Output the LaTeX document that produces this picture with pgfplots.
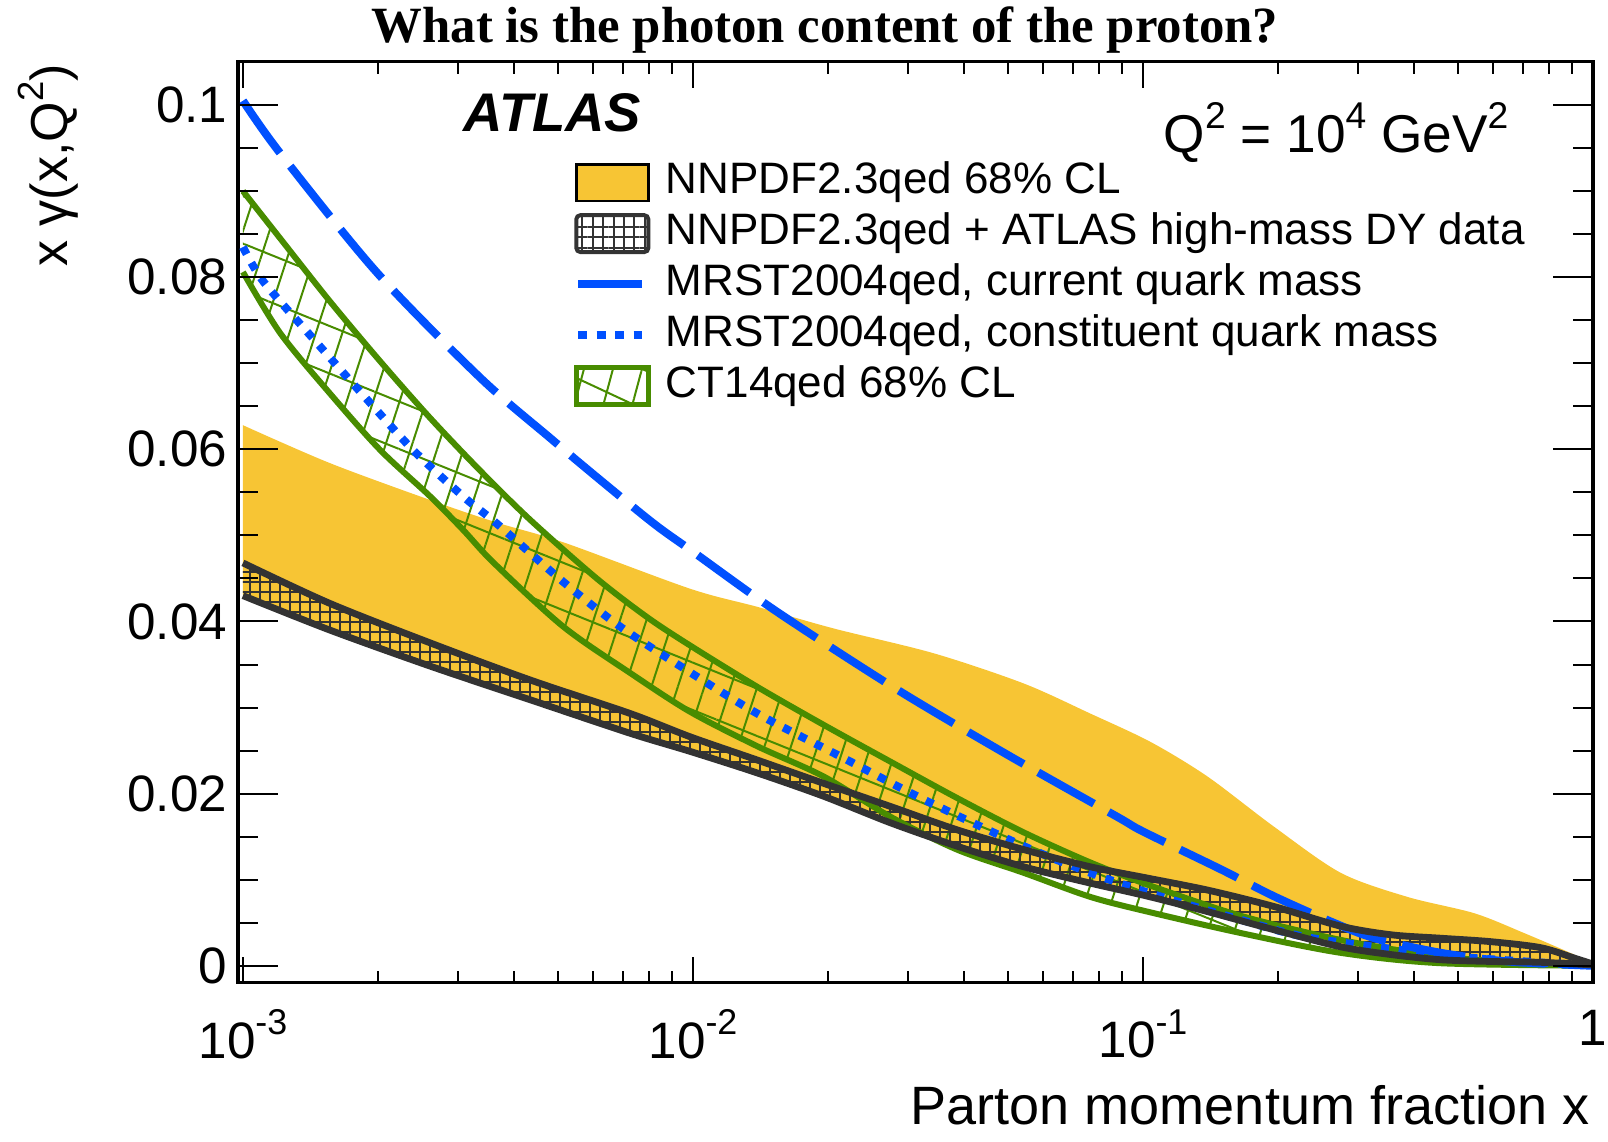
\documentclass[border=0pt]{standalone}
\usepackage{fontspec}
\setmainfont{Liberation Sans}
\newfontfamily\titlefont{Liberation Serif}
\usepackage{pgfplots}
\usepackage{pgfplotstable}
\pgfplotsset{compat=1.18}
\usepgfplotslibrary{fillbetween}
\usetikzlibrary{patterns,patterns.meta}
\definecolor{nnyellow}{RGB}{247,197,52}
\definecolor{mrstblue}{RGB}{0,80,255}
\definecolor{ctgreen}{RGB}{72,140,0}
\definecolor{dkgray}{RGB}{51,51,51}
\newcommand\sps[1]{\raisebox{0.46em}{\scalebox{0.7}{#1}}}
\pgfplotsset{
  legbox/.style={legend image code/.code={\draw[##1] (0pt,-4.6pt) rectangle (18pt,4.6pt);}},
  legline/.style={legend image code/.code={\draw[##1] (0.5pt,0pt) -- (16.5pt,0pt);}},
}
% NNPDF2.3qed 68% CL, upper edge
\pgfplotstableread{
x y
0.001 0.0628
0.00156 0.0584
0.00261 0.0541
0.00366 0.0515
0.00515 0.0492
0.00986 0.0438
0.0139 0.0417
0.0205 0.0392
0.0343 0.0363
0.0543 0.0328
0.0764 0.0293
0.104 0.0260
0.139 0.0220
0.195 0.0162
0.275 0.0108
0.387 0.0080
0.545 0.0061
0.703 0.0038
0.908 0.0013
1 0.0002
}\yU
% NNPDF2.3qed + ATLAS, upper edge
\pgfplotstableread{
x y
0.001 0.0468
0.00156 0.0421
0.00261 0.0375
0.00435 0.0332
0.00726 0.0293
0.00986 0.0266
0.0139 0.0239
0.0195 0.0212
0.0275 0.0185
0.0386 0.0158
0.0543 0.0135
0.0764 0.0115
0.102 0.0102
0.139 0.0088
0.195 0.0069
0.275 0.0046
0.356 0.0036
0.459 0.0032
0.593 0.0028
0.766 0.0021
0.908 0.0009
1 0.0002
}\nU
% NNPDF2.3qed + ATLAS, lower edge
\pgfplotstableread{
x y
0.001 0.0430
0.00156 0.0390
0.00261 0.0348
0.00435 0.0309
0.00726 0.0270
0.00986 0.0249
0.0139 0.0224
0.0195 0.0197
0.0275 0.0166
0.0386 0.0139
0.0543 0.0115
0.0764 0.0096
0.102 0.0081
0.139 0.0063
0.195 0.0042
0.275 0.0022
0.356 0.0013
0.459 0.0007
0.593 0.0005
0.766 0.0004
1 0.0001
}\nL
% CT14qed upper edge
\pgfplotstableread{
x y
0.001 0.0900
0.00121 0.0845
0.00156 0.0772
0.00202 0.0702
0.00261 0.0636
0.00337 0.0575
0.00435 0.0518
0.00611 0.0450
0.00791 0.0405
0.00986 0.0372
0.0139 0.0324
0.0195 0.0280
0.0275 0.0237
0.0386 0.0195
0.0543 0.0155
0.0764 0.0120
0.104 0.0093
0.165 0.0058
0.275 0.0030
0.457 0.0011
0.708 0.0003
1 0.0
}\cU
% CT14qed lower edge
\pgfplotstableread{
x y
0.001 0.0806
0.00121 0.0735
0.00156 0.0665
0.00202 0.0599
0.00261 0.0545
0.00309 0.0506
0.00361 0.0468
0.00515 0.0394
0.00726 0.0340
0.00986 0.0295
0.0139 0.0255
0.0195 0.0220
0.0275 0.0173
0.0386 0.0135
0.0543 0.0108
0.0764 0.0080
0.104 0.0062
0.165 0.0038
0.275 0.0015
0.457 0.0003
1 0.0
}\cL
% MRST2004qed current quark mass
\pgfplotstableread{
x y
0.001 0.1005
0.00121 0.0944
0.00198 0.0806
0.00337 0.0683
0.00482 0.0613
0.00607 0.0569
0.00817 0.0514
0.0100 0.0481
0.0154 0.0411
0.0284 0.0321
0.0508 0.0243
0.0877 0.0173
0.1 0.0156
0.149 0.0112
0.195 0.0081
0.257 0.0053
0.327 0.0032
0.459 0.0015
0.646 0.0005
1 0.0
}\mC
% MRST2004qed constituent quark mass
\pgfplotstableread{
x y
0.001 0.0835
0.00111 0.0795
0.00143 0.0729
0.00185 0.0663
0.00239 0.0599
0.00309 0.0545
0.00366 0.0514
0.00515 0.0446
0.00689 0.0394
0.00938 0.0348
0.0139 0.0293
0.0213 0.0243
0.0326 0.0193
0.0543 0.0139
0.0764 0.0108
0.104 0.0084
0.1585 0.0056
0.232 0.0033
0.407 0.0016
0.543 0.0009
1 0.0
}\mK
\begin{document}
\begin{tikzpicture}
\begin{axis}[
  at={(0pt,0pt)}, anchor=south west,
  scale only axis, width=338.75pt, height=230.25pt,
  xmode=log, xmin=0.000975, xmax=1, ymin=-0.002, ymax=0.105,
  xtick={0.001,0.01,0.1,1},
  xticklabels={10\sps{-3},10\sps{-2},10\sps{-1},1},
  ytick=\empty,
  major tick length=6.5pt, minor tick length=3pt,
  tick style={line width=0.5pt, black},
  axis line style={line width=0.75pt},
  xticklabel style={font=\fontsize{12.8}{14}\selectfont, inner sep=0pt, anchor=north, yshift=-6.5pt},
  every axis plot/.append style={smooth, tension=0.5},
  legend cell align=left,
  legend style={at={(rel axis cs:0.2472,0.8968)}, anchor=north west, draw=none, fill=none,
    inner sep=0pt, row sep=0.2pt, column sep=2.75pt, font=\fontsize{11}{13}\selectfont,
    nodes={inner sep=1pt, text height=8pt, text depth=2.5pt}},
]
\addlegendimage{legbox, fill=nnyellow, draw=black, line width=0.6pt}
\addlegendentry{NNPDF2.3qed 68\% CL}
\addlegendimage{legbox, draw=dkgray, line width=1pt, rounded corners=1pt, pattern={Hatch[angle=0,distance=2.6pt,line width=0.5pt]}, pattern color=dkgray}
\addlegendentry{NNPDF2.3qed + ATLAS high-mass DY data}
\addlegendimage{legline, mrstblue, line width=2pt}
\addlegendentry{MRST2004qed, current quark mass}
\addlegendimage{legline, mrstblue, line width=2pt, dash pattern=on 2.2pt off 2.4pt}
\addlegendentry{MRST2004qed, constituent quark mass}
\addlegendimage{legend image code/.code={
   \fill[pattern={Lines[angle=75,distance=7pt,line width=0.5pt]}, pattern color=ctgreen] (0pt,-4.6pt) rectangle (18pt,4.6pt);
   \fill[pattern={Lines[angle=-25,distance=9pt,line width=0.5pt]}, pattern color=ctgreen] (0pt,-4.6pt) rectangle (18pt,4.6pt);
   \draw[ctgreen, line width=1.3pt] (0pt,-4.6pt) rectangle (18pt,4.6pt);}}
\addlegendentry{CT14qed 68\% CL}

\addplot[draw=none, forget plot, name path=yU] table {\yU};
\addplot[draw=none, forget plot, name path=nL] table {\nL};
\addplot[draw=none, forget plot, name path=nU] table {\nU};
\addplot[draw=none, forget plot, name path=cU] table {\cU};
\addplot[draw=none, forget plot, name path=cL] table {\cL};
% NNPDF2.3qed band
\addplot[fill=nnyellow, draw=none, forget plot] fill between[of=yU and nL];
% CT14qed band
\addplot[draw=none, forget plot, pattern={Lines[angle=72,distance=6.3pt,line width=0.5pt]}, pattern color=ctgreen] fill between[of=cU and cL];
\addplot[draw=none, forget plot, pattern={Lines[angle=-22,distance=11pt,line width=0.5pt]}, pattern color=ctgreen] fill between[of=cU and cL];
\addplot[ctgreen, line width=1.5pt, forget plot] table {\cU};
\addplot[ctgreen, line width=1.5pt, forget plot] table {\cL};
% MRST curves
\addplot[mrstblue, line width=2pt, line cap=butt, dash pattern=on 2pt off 2.45pt, forget plot] table {\mK};
\addplot[mrstblue, line width=2pt, line cap=butt, dash pattern=on 16pt off 4.2pt, forget plot] table {\mC};
% NNPDF + ATLAS band
\addplot[draw=none, forget plot, pattern={Hatch[angle=0,distance=2.5pt,line width=0.5pt]}, pattern color=dkgray] fill between[of=nU and nL];
\addplot[dkgray, line width=1.7pt, forget plot] table {\nU};
\addplot[dkgray, line width=1.7pt, forget plot] table {\nL};
\end{axis}
\begin{axis}[
  at={(0pt,0pt)}, anchor=south west,
  scale only axis, width=338.75pt, height=230.25pt,
  xmode=log, xmin=0.000975, xmax=1, ymin=-0.002, ymax=0.105,
  xtick=\empty,
  ytick={0,0.02,0.04,0.06,0.08,0.1},
  yticklabels={0,0.02,0.04,0.06,0.08,0.1},
  minor y tick num=3,
  major tick length=10pt, minor tick length=5pt,
  tick style={line width=0.5pt, black},
  axis line style={line width=0.75pt},
  yticklabel style={font=\fontsize{12.8}{14}\selectfont, inner sep=0pt, anchor=east, xshift=-2.5pt},
]
\addplot[draw=none, forget plot] table {\mC};
\end{axis}
\node[font=\titlefont\bfseries\fontsize{12.7}{14}\selectfont, anchor=base, inner sep=0pt] at (146.75pt,235pt) {What is the photon content of the proton?};
\node[font=\bfseries\itshape\fontsize{13.6}{16}\selectfont, anchor=base west, inner sep=0pt] at (56.25pt,212.8pt) {ATLAS};
\node[font=\fontsize{13.3}{16}\selectfont, anchor=base west, inner sep=0pt] at (231.25pt,207.5pt) {Q\sps{2} = 10\sps{4} GeV\sps{2}};
\node[font=\fontsize{13.5}{16}\selectfont, anchor=base east, inner sep=0pt] at (338pt,-35.5pt) {Parton momentum fraction x};
\node[font=\fontsize{13}{16}\selectfont, rotate=90, anchor=base east, inner sep=0pt] at (-42.6pt,229.85pt) {x γ(x,Q\sps{2})};
\pgfresetboundingbox
\useasboundingbox (-59.5pt,-39.75pt) rectangle (342.5pt,245.75pt);
\end{tikzpicture}
\end{document}
